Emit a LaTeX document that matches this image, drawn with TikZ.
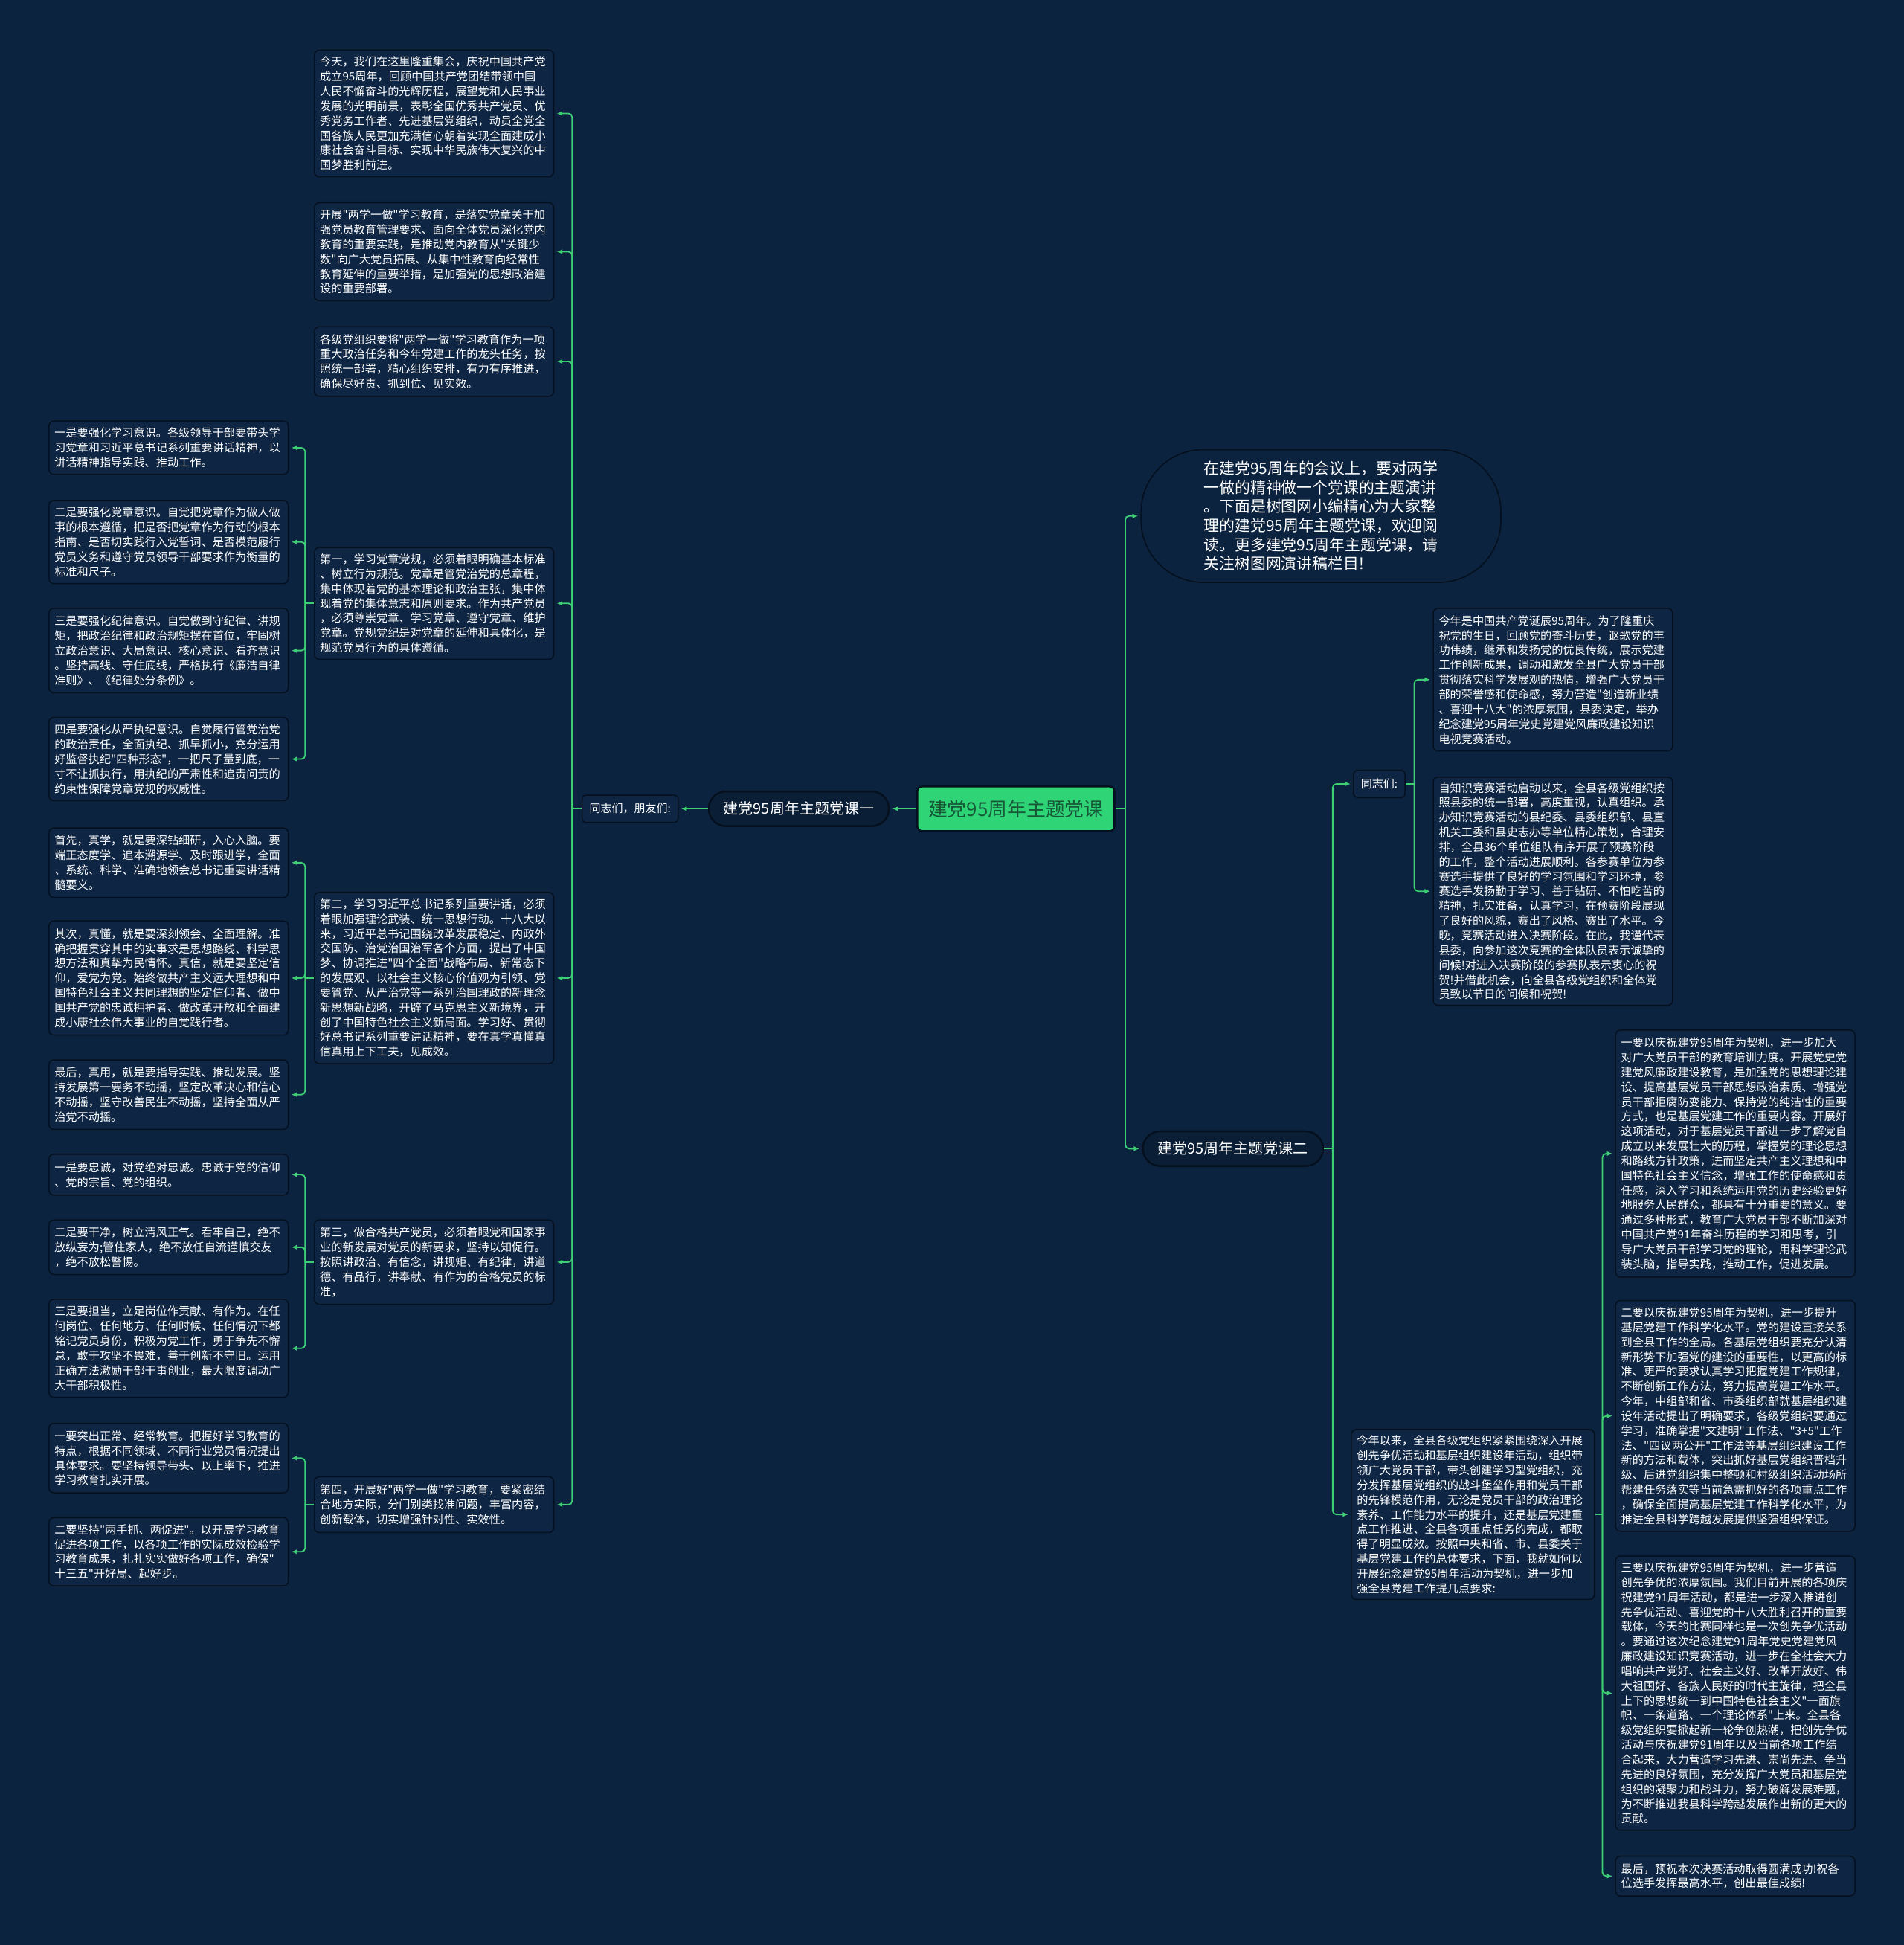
\documentclass[tikz,border=0pt]{standalone}
\usepackage{fontspec}
\newfontfamily\cjk{Noto Sans CJK SC}
\usetikzlibrary{arrows.meta}
\definecolor{bg}{RGB}{12,35,63}
\definecolor{boxfill}{RGB}{14,38,68}
\definecolor{boxline}{RGB}{5,16,30}
\definecolor{lk}{RGB}{62,206,116}
\definecolor{rootfill}{RGB}{46,212,118}
\definecolor{roottext}{RGB}{22,88,56}
\tikzset{
  txtbox/.style={draw=boxline, fill=boxfill, line width=0.9pt, rounded corners=4pt,
    text=white, font=\cjk\fontsize{9.1}{11.9}\selectfont, align=left,
    text width=184pt, inner xsep=4.5pt, inner ysep=3pt, anchor=north west},
  smallbox/.style={draw=boxline, fill=boxfill, line width=0.9pt, rounded corners=3pt,
    text=white, font=\cjk\fontsize{9}{11}\selectfont, inner xsep=6pt, minimum height=22pt},
  pill/.style={draw=boxline, fill=bg!85!black, line width=1.5pt, rounded corners=14pt,
    text=white, font=\cjk\fontsize{12}{14}\selectfont, minimum height=28pt, inner xsep=12pt},
  rootbox/.style={draw=boxline, fill=rootfill, line width=1.5pt, rounded corners=4pt,
    text=roottext, font=\cjk\fontsize{15.5}{18}\selectfont, minimum width=159pt, minimum height=36pt},
  introbox/.style={draw=boxline, fill=bg, line width=1pt, rounded corners=50pt,
    text=white, font=\cjk\fontsize{12.5}{15.4}\selectfont, align=left,
    minimum width=290pt, minimum height=107pt},
  link/.style={draw=lk, line width=1.1pt, rounded corners=3pt},
  arr/.style={link, -{Latex[length=4.5pt,width=4pt]}, shorten >=2pt}
}
\begin{document}
\begin{tikzpicture}[x=1pt,y=-1pt]
\fill[bg] (0,0) rectangle (1535,1568);
\useasboundingbox (0,0) rectangle (1535,1568);

% centre
\node[rootbox] (root) at (819,652) {建党95周年主题党课};
\node[pill] (k1) at (644,652) {建党95周年主题党课一};
\node[smallbox] (tz) at (508,652) {同志们，朋友们:};
\node[pill] (k2) at (994,926) {建党95周年主题党课二};
\node[introbox] (intro) at (1065,416) {在建党95周年的会议上，要对两学\\一做的精神做一个党课的主题演讲\\。下面是树图网小编精心为大家整\\理的建党95周年主题党课，欢迎阅\\读。更多建党95周年主题党课，请\\关注树图网演讲稿栏目!};
\node[smallbox] (tzr) at (1112,632) {同志们:};

% left column 1
\node[txtbox, minimum height=102pt] (A) at (253,40) {今天，我们在这里隆重集会，庆祝中国共产党\\成立95周年，回顾中国共产党团结带领中国\\人民不懈奋斗的光辉历程，展望党和人民事业\\发展的光明前景，表彰全国优秀共产党员、优\\秀党务工作者、先进基层党组织，动员全党全\\国各族人民更加充满信心朝着实现全面建成小\\康社会奋斗目标、实现中华民族伟大复兴的中\\国梦胜利前进。};
\node[txtbox, minimum height=79pt] (B) at (253,163) {开展"两学一做"学习教育，是落实党章关于加\\强党员教育管理要求、面向全体党员深化党内\\教育的重要实践，是推动党内教育从"关键少\\数"向广大党员拓展、从集中性教育向经常性\\教育延伸的重要举措，是加强党的思想政治建\\设的重要部署。};
\node[txtbox, minimum height=56pt] (C) at (253,263) {各级党组织要将"两学一做"学习教育作为一项\\重大政治任务和今年党建工作的龙头任务，按\\照统一部署，精心组织安排，有力有序推进，\\确保尽好责、抓到位、见实效。};
\node[txtbox, minimum height=90pt] (D1) at (253,441) {第一，学习党章党规，必须着眼明确基本标准\\、树立行为规范。党章是管党治党的总章程，\\集中体现着党的基本理论和政治主张，集中体\\现着党的集体意志和原则要求。作为共产党员\\，必须尊崇党章、学习党章、遵守党章、维护\\党章。党规党纪是对党章的延伸和具体化，是\\规范党员行为的具体遵循。};
\node[txtbox, minimum height=138pt] (D2) at (253,719) {第二，学习习近平总书记系列重要讲话，必须\\着眼加强理论武装、统一思想行动。十八大以\\来，习近平总书记围绕改革发展稳定、内政外\\交国防、治党治国治军各个方面，提出了中国\\梦、协调推进"四个全面"战略布局、新常态下\\的发展观、以社会主义核心价值观为引领、党\\要管党、从严治党等一系列治国理政的新理念\\新思想新战略，开辟了马克思主义新境界，开\\创了中国特色社会主义新局面。学习好、贯彻\\好总书记系列重要讲话精神，要在真学真懂真\\信真用上下工夫，见成效。};
\node[txtbox, minimum height=68pt] (D3) at (253,983) {第三，做合格共产党员，必须着眼党和国家事\\业的新发展对党员的新要求，坚持以知促行。\\按照讲政治、有信念，讲规矩、有纪律，讲道\\德、有品行，讲奉献、有作为的合格党员的标\\准，};
\node[txtbox, minimum height=45pt] (D4) at (253,1190) {第四，开展好"两学一做"学习教育，要紧密结\\合地方实际，分门别类找准问题，丰富内容，\\创新载体，切实增强针对性、实效性。};

% left column 0
\node[txtbox, minimum height=43pt] (L1) at (39,339) {一是要强化学习意识。各级领导干部要带头学\\习党章和习近平总书记系列重要讲话精神，以\\讲话精神指导实践、推动工作。};
\node[txtbox, minimum height=67pt] (L2) at (39,403) {二是要强化党章意识。自觉把党章作为做人做\\事的根本遵循，把是否把党章作为行动的根本\\指南、是否切实践行入党誓词、是否模范履行\\党员义务和遵守党员领导干部要求作为衡量的\\标准和尺子。};
\node[txtbox, minimum height=68pt] (L3) at (39,490) {三是要强化纪律意识。自觉做到守纪律、讲规\\矩，把政治纪律和政治规矩摆在首位，牢固树\\立政治意识、大局意识、核心意识、看齐意识\\。坚持高线、守住底线，严格执行《廉洁自律\\准则》、《纪律处分条例》。};
\node[txtbox, minimum height=67pt] (L4) at (39,578) {四是要强化从严执纪意识。自觉履行管党治党\\的政治责任，全面执纪、抓早抓小，充分运用\\好监督执纪"四种形态"，一把尺子量到底，一\\寸不让抓执行，用执纪的严肃性和追责问责的\\约束性保障党章党规的权威性。};
\node[txtbox, minimum height=56pt] (L5) at (39,667) {首先，真学，就是要深钻细研，入心入脑。要\\端正态度学、追本溯源学、及时跟进学，全面\\、系统、科学、准确地领会总书记重要讲话精\\髓要义。};
\node[txtbox, minimum height=92pt] (L6) at (39,742) {其次，真懂，就是要深刻领会、全面理解。准\\确把握贯穿其中的实事求是思想路线、科学思\\想方法和真挚为民情怀。真信，就是要坚定信\\仰，爱党为党。始终做共产主义远大理想和中\\国特色社会主义共同理想的坚定信仰者、做中\\国共产党的忠诚拥护者、做改革开放和全面建\\成小康社会伟大事业的自觉践行者。};
\node[txtbox, minimum height=56pt] (L7) at (39,854) {最后，真用，就是要指导实践、推动发展。坚\\持发展第一要务不动摇，坚定改革决心和信心\\不动摇，坚守改善民生不动摇，坚持全面从严\\治党不动摇。};
\node[txtbox, minimum height=33pt] (L8) at (39,930) {一是要忠诚，对党绝对忠诚。忠诚于党的信仰\\、党的宗旨、党的组织。};
\node[txtbox, minimum height=44pt] (L9) at (39,983) {二是要干净，树立清风正气。看牢自己，绝不\\放纵妄为;管住家人，绝不放任自流谨慎交友\\，绝不放松警惕。};
\node[txtbox, minimum height=79pt] (L10) at (39,1047) {三是要担当，立足岗位作贡献、有作为。在任\\何岗位、任何地方、任何时候、任何情况下都\\铭记党员身份，积极为党工作，勇于争先不懈\\怠，敢于攻坚不畏难，善于创新不守旧。运用\\正确方法激励干部干事创业，最大限度调动广\\大干部积极性。};
\node[txtbox, minimum height=56pt] (L11) at (39,1147) {一要突出正常、经常教育。把握好学习教育的\\特点，根据不同领域、不同行业党员情况提出\\具体要求。要坚持领导带头、以上率下，推进\\学习教育扎实开展。};
\node[txtbox, minimum height=55pt] (L12) at (39,1223) {二要坚持"两手抓、两促进"。以开展学习教育\\促进各项工作，以各项工作的实际成效检验学\\习教育成果，扎扎实实做好各项工作，确保"\\十三五"开好局、起好步。};

% right side
\node[txtbox, minimum height=115pt] (R1) at (1155,490) {今年是中国共产党诞辰95周年。为了隆重庆\\祝党的生日，回顾党的奋斗历史，讴歌党的丰\\功伟绩，继承和发扬党的优良传统，展示党建\\工作创新成果，调动和激发全县广大党员干部\\贯彻落实科学发展观的热情，增强广大党员干\\部的荣誉感和使命感，努力营造"创造新业绩\\、喜迎十八大"的浓厚氛围，县委决定，举办\\纪念建党95周年党史党建党风廉政建设知识\\电视竞赛活动。};
\node[txtbox, minimum height=184pt] (R2) at (1155,626) {自知识竞赛活动启动以来，全县各级党组织按\\照县委的统一部署，高度重视，认真组织。承\\办知识竞赛活动的县纪委、县委组织部、县直\\机关工委和县史志办等单位精心策划，合理安\\排，全县36个单位组队有序开展了预赛阶段\\的工作，整个活动进展顺利。各参赛单位为参\\赛选手提供了良好的学习氛围和学习环境，参\\赛选手发扬勤于学习、善于钻研、不怕吃苦的\\精神，扎实准备，认真学习，在预赛阶段展现\\了良好的风貌，赛出了风格、赛出了水平。今\\晚，竞赛活动进入决赛阶段。在此，我谨代表\\县委，向参加这次竞赛的全体队员表示诚挚的\\问候!对进入决赛阶段的参赛队表示衷心的祝\\贺!并借此机会，向全县各级党组织和全体党\\员致以节日的问候和祝贺!};
\node[txtbox, text width=187pt, minimum height=137pt] (jn) at (1089,1152) {今年以来，全县各级党组织紧紧围绕深入开展\\创先争优活动和基层组织建设年活动，组织带\\领广大党员干部，带头创建学习型党组织，充\\分发挥基层党组织的战斗堡垒作用和党员干部\\的先锋模范作用，无论是党员干部的政治理论\\素养、工作能力水平的提升，还是基层党建重\\点工作推进、全县各项重点任务的完成，都取\\得了明显成效。按照中央和省、市、县委关于\\基层党建工作的总体要求，下面，我就如何以\\开展纪念建党95周年活动为契机，进一步加\\强全县党建工作提几点要求:};
\node[txtbox, minimum height=199pt] (S1) at (1302,830) {一要以庆祝建党95周年为契机，进一步加大\\对广大党员干部的教育培训力度。开展党史党\\建党风廉政建设教育，是加强党的思想理论建\\设、提高基层党员干部思想政治素质、增强党\\员干部拒腐防变能力、保持党的纯洁性的重要\\方式，也是基层党建工作的重要内容。开展好\\这项活动，对于基层党员干部进一步了解党自\\成立以来发展壮大的历程，掌握党的理论思想\\和路线方针政策，进而坚定共产主义理想和中\\国特色社会主义信念，增强工作的使命感和责\\任感，深入学习和系统运用党的历史经验更好\\地服务人民群众，都具有十分重要的意义。要\\通过多种形式，教育广大党员干部不断加深对\\中国共产党91年奋斗历程的学习和思考，引\\导广大党员干部学习党的理论，用科学理论武\\装头脑，指导实践，推动工作，促进发展。};
\node[txtbox, minimum height=186pt] (S2) at (1302,1048) {二要以庆祝建党95周年为契机，进一步提升\\基层党建工作科学化水平。党的建设直接关系\\到全县工作的全局。各基层党组织要充分认清\\新形势下加强党的建设的重要性，以更高的标\\准、更严的要求认真学习把握党建工作规律，\\不断创新工作方法，努力提高党建工作水平。\\今年，中组部和省、市委组织部就基层组织建\\设年活动提出了明确要求，各级党组织要通过\\学习，准确掌握"文建明"工作法、"3+5"工作\\法、"四议两公开"工作法等基层组织建设工作\\新的方法和载体，突出抓好基层党组织晋档升\\级、后进党组织集中整顿和村级组织活动场所\\帮建任务落实等当前急需抓好的各项重点工作\\，确保全面提高基层党建工作科学化水平，为\\推进全县科学跨越发展提供坚强组织保证。};
\node[txtbox, minimum height=221pt] (S3) at (1302,1254) {三要以庆祝建党95周年为契机，进一步营造\\创先争优的浓厚氛围。我们目前开展的各项庆\\祝建党91周年活动，都是进一步深入推进创\\先争优活动、喜迎党的十八大胜利召开的重要\\载体，今天的比赛同样也是一次创先争优活动\\。要通过这次纪念建党91周年党史党建党风\\廉政建设知识竞赛活动，进一步在全社会大力\\唱响共产党好、社会主义好、改革开放好、伟\\大祖国好、各族人民好的时代主旋律，把全县\\上下的思想统一到中国特色社会主义"一面旗\\帜、一条道路、一个理论体系"上来。全县各\\级党组织要掀起新一轮争创热潮，把创先争优\\活动与庆祝建党91周年以及当前各项工作结\\合起来，大力营造学习先进、崇尚先进、争当\\先进的良好氛围，充分发挥广大党员和基层党\\组织的凝聚力和战斗力，努力破解发展难题，\\为不断推进我县科学跨越发展作出新的更大的\\贡献。};
\node[txtbox, minimum height=32pt] (S4) at (1302,1496) {最后，预祝本次决赛活动取得圆满成功!祝各\\位选手发挥最高水平，创出最佳成绩!};

% junction coordinates
\coordinate (jL) at ([xshift=-7.5pt]tz.west);
\coordinate (j1) at ([xshift=-7pt]D1.west);
\coordinate (j2) at ([xshift=-7pt]D2.west);
\coordinate (j3) at ([xshift=-7pt]D3.west);
\coordinate (j4) at ([xshift=-7pt]D4.west);
\coordinate (jR) at ([xshift=8pt]root.east);
\coordinate (jK) at ([xshift=7pt]k2.east);
\coordinate (jT) at ([xshift=7pt]tzr.east);
\coordinate (jS) at ([xshift=6pt]jn.east);

% connectors
\draw[arr] (root.west) -- (k1.east);
\draw[arr] (k1.west) -- (tz.east);
\draw[link] (tz.west) -- (jL);
\foreach \n in {A,B,C,D1,D2,D3,D4} \draw[arr] (jL) |- (\n.east);
\draw[link] (D1.west) -- (j1);
\foreach \n in {L1,L2,L3,L4} \draw[arr] (j1) |- (\n.east);
\draw[link] (D2.west) -- (j2);
\foreach \n in {L5,L6,L7} \draw[arr] (j2) |- (\n.east);
\draw[link] (D3.west) -- (j3);
\foreach \n in {L8,L9,L10} \draw[arr] (j3) |- (\n.east);
\draw[link] (D4.west) -- (j4);
\foreach \n in {L11,L12} \draw[arr] (j4) |- (\n.east);

\draw[link] (root.east) -- (jR);
\draw[arr] (jR) |- (intro.west);
\draw[arr] (jR) |- (k2.west);
\draw[link] (k2.east) -- (jK);
\draw[arr] (jK) |- (tzr.west);
\draw[arr] (jK) |- (jn.west);
\draw[link] (tzr.east) -- (jT);
\draw[arr] (jT) |- (R1.west);
\draw[arr] (jT) |- (R2.west);
\draw[link] (jn.east) -- (jS);
\foreach \n in {S1,S2,S3,S4} \draw[arr] (jS) |- (\n.west);
\end{tikzpicture}
\end{document}
